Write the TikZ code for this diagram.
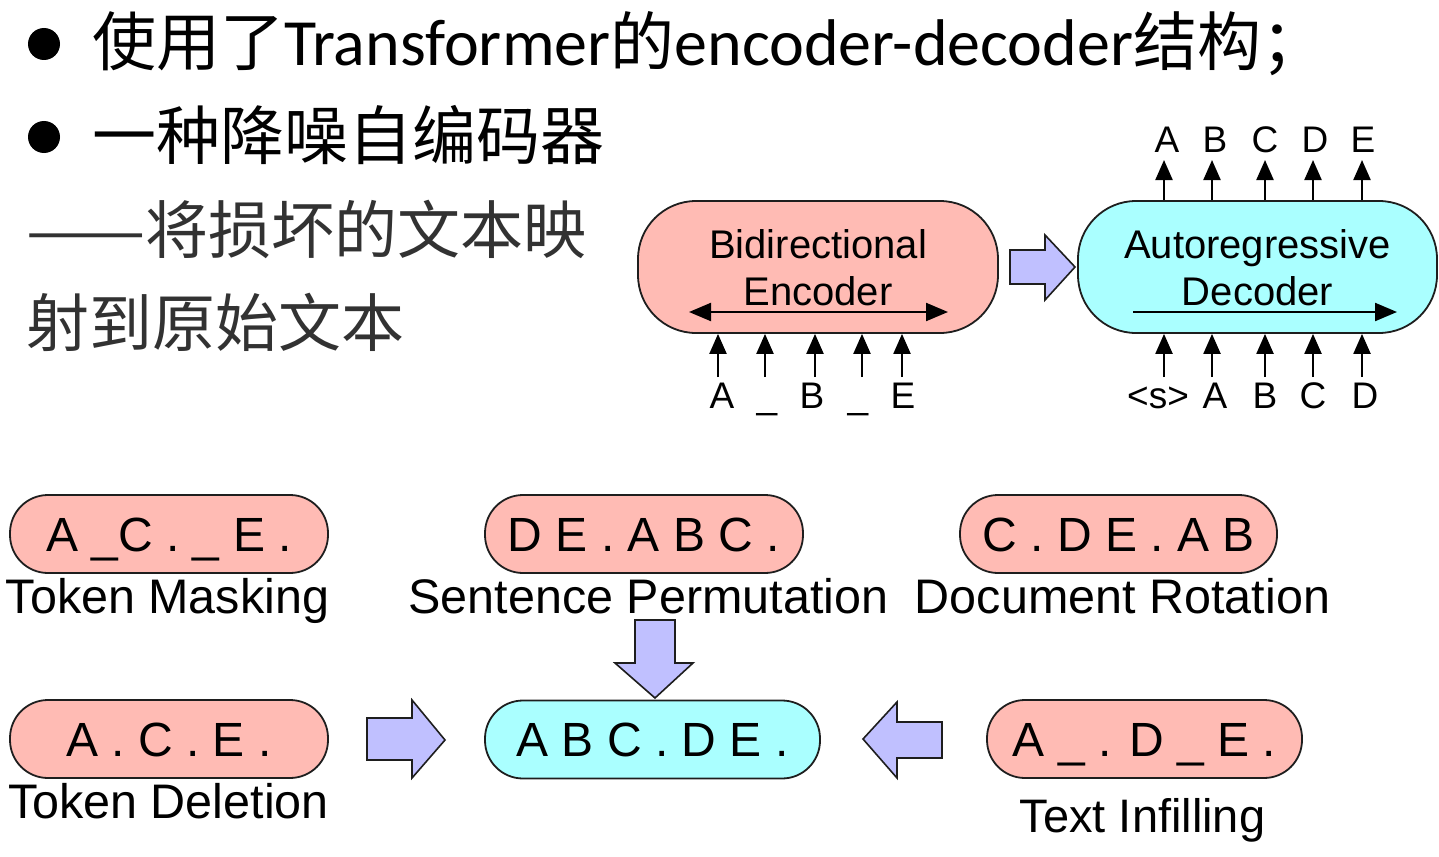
\documentclass[tikz,border=0pt]{standalone}
\usepackage{fontspec}
\setmainfont{Carlito}
\newfontfamily\cjk{Noto Sans CJK SC}
\newfontfamily\hel{Liberation Sans}
\usetikzlibrary{arrows.meta}
\definecolor{pinkc}{RGB}{255,187,180}
\definecolor{cyanc}{RGB}{170,255,255}
\definecolor{lavc}{RGB}{192,192,255}
\definecolor{edgec}{RGB}{30,30,30}
\definecolor{grayt}{RGB}{50,50,50}
\tikzset{
  smallbox/.style={draw=edgec, line width=1.8pt, rounded corners=38pt, minimum height=78pt,
    inner sep=0pt, text height=34pt, text depth=0pt, font=\hel\fontsize{48}{48}\selectfont},
  pinkbox/.style={smallbox, fill=pinkc},
  cyanbox/.style={smallbox, fill=cyanc},
  bigbox/.style={draw=edgec, line width=1.8pt, rounded corners=58pt, minimum width=360pt, minimum height=132pt, inner sep=0pt},
  boxtext/.style={anchor=base, inner sep=0pt, font=\hel\fontsize{40}{40}\selectfont},
  toklbl/.style={anchor=base, inner sep=0pt, font=\hel\fontsize{37}{37}\selectfont},
  caption/.style={anchor=base, inner sep=0pt, font=\hel\fontsize{48.5}{48.5}\selectfont},
  tok/.style={line width=2.2pt, -{Triangle[length=20pt,width=17pt]}},
  flowarr/.style={line width=2.2pt},
  blockarr/.style={draw=edgec, line width=1.6pt, fill=lavc, line join=miter},
  cjktext/.style={anchor=base west, inner sep=0pt, font=\fontsize{64}{64}\selectfont},
}
\begin{document}
\begin{tikzpicture}[x=1pt,y=-1pt]
\useasboundingbox (0,0) rectangle (1439,856);

% ---------- bullet text ----------
\fill[black] (44,44) circle (16);
\fill[black] (44,137) circle (16);
\node[cjktext] (t1) at (92,66) {{\cjk 使用了}{\fontsize{66}{66}\selectfont Transformer}{\cjk 的}{\fontsize{66}{66}\selectfont encoder-decoder}{\cjk 结构；}};
\node[cjktext] (t2) at (92,159) {\cjk 一种降噪自编码器};
\node[cjktext, text=grayt, font=\fontsize{63}{63}\selectfont] (t3) at (26,253) {\cjk \scalebox{1.13}[1]{——}将损坏的文本映};
\node[cjktext, text=grayt, font=\fontsize{63}{63}\selectfont] (t4) at (26,346) {\cjk 射到原始文本};

% ---------- encoder / decoder ----------
\node[bigbox, fill=pinkc] (enc) at (818,267) {};
\node[bigbox, fill=cyanc, minimum width=359pt] (dec) at (1257.5,267) {};
\node[boxtext] (encA) at (818,258) {Bidirectional};
\node[boxtext] (encB) at (818,305) {Encoder};
\node[boxtext] (decA) at (1257.5,258) {Autoregressive};
\node[boxtext] (decB) at (1257.5,305) {Decoder};

\coordinate (eL) at (689,312);
\coordinate (eR) at (948,312);
\draw[flowarr, {Triangle[length=22pt,width=18pt]}-{Triangle[length=22pt,width=18pt]}] (eL) -- (eR);
\coordinate (dL) at (1133,312);
\coordinate (dR) at (1397,312);
\draw[flowarr, -{Triangle[length=22pt,width=18pt]}] (dL) -- (dR);

% encoder inputs
\foreach \x/\lx/\t [count=\i] in {718/722/A, 765/767/\_, 815/812/B, 862/858/\_, 902/903/E}{
  \node[toklbl] (ein\i) at (\lx,408) {\t};
  \coordinate (es\i) at (\x,377);
  \draw[tok] (es\i) -- (es\i |- enc.south);
}
% decoder inputs
\foreach \x/\lx/\t [count=\i] in {1164/1158/{<s>}, 1212/1215/A, 1265/1265/B, 1313/1313/C, 1362/1365/D}{
  \node[toklbl] (din\i) at (\lx,408) {\t};
  \coordinate (ds\i) at (\x,377);
  \draw[tok] (ds\i) -- (ds\i |- dec.south);
}
% decoder outputs
\foreach \x/\lx/\t [count=\i] in {1164/1167/A, 1212/1215/B, 1265/1265/C, 1313/1315/D, 1362/1363/E}{
  \node[toklbl] (dout\i) at (\lx,152) {\t};
  \coordinate (dt\i) at (\x,160);
  \draw[tok] (dt\i |- dec.north) -- (dt\i);
}

% block arrow enc -> dec
\draw[blockarr] (1010,250) -- (1045,250) -- (1045,235) -- (1075,267) -- (1045,300) -- (1045,284) -- (1010,284) -- cycle;

% ---------- noising transforms ----------
\node[pinkbox, minimum width=318pt] (tm) at (169,534) {A \_C . \_ E .};
\node[pinkbox, minimum width=318pt] (sp) at (644,534) {D E . A B C .};
\node[pinkbox, minimum width=317pt] (dr) at (1118.5,534) {C . D E . A B};
\node[pinkbox, minimum width=318pt] (td) at (169,739) {A . C . E .};
\node[cyanbox, minimum width=335pt] (orig) at (652.5,739.5) {A B C . D E .};
\node[pinkbox, minimum width=315pt] (ti) at (1144.5,739) {A \_ . D \_ E .};

\node[caption] (tmL) at (167.5,613) {Token Masking};
\node[caption] (spL) at (648.5,613) {Sentence Permutation};
\node[caption] (drL) at (1122.5,613) {Document Rotation};
\node[caption] (tdL) at (168.5,818) {Token Deletion};
\node[caption, font=\hel\fontsize{47}{47}\selectfont] (tiL) at (1142.5,832) {Text Infilling};

% block arrows
\draw[blockarr] (635,620) -- (675,620) -- (675,663) -- (693,663) -- (655,698) -- (615,663) -- (635,663) -- cycle;
\draw[blockarr] (367,718) -- (412,718) -- (412,700) -- (445,740) -- (412,778) -- (412,760) -- (367,760) -- cycle;
\draw[blockarr] (942,722) -- (897,722) -- (897,702) -- (863,739) -- (897,778) -- (897,758) -- (942,758) -- cycle;
\end{tikzpicture}
\end{document}
